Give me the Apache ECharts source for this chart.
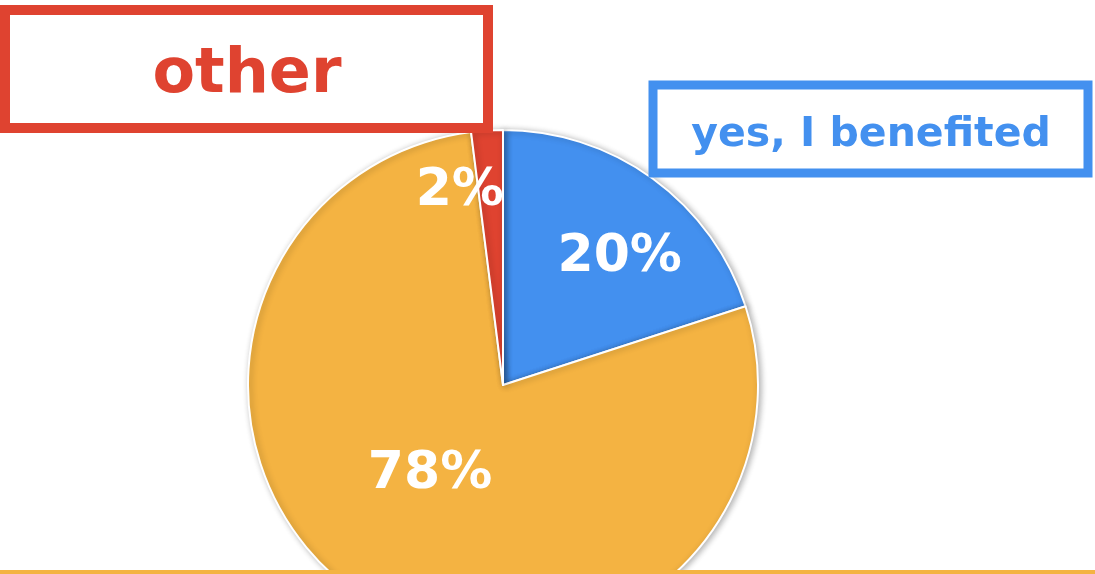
<!DOCTYPE html>
<html>
<head>
<meta charset="utf-8">
<script src="https://cdn.jsdelivr.net/npm/echarts@6/dist/echarts.min.js"></script>
<style>
  html, body { margin: 0; padding: 0; background: #fff; }
  #chart { width: 1095px; height: 574px; }
</style>
</head>
<body>
<div id="chart"></div>
<script>
// slices, clockwise from 12 o'clock
const names = ['yes, I benefited', 'no', 'other']
const values = [20, 78, 2]
const colors = ['#4390EF', '#F4B342', '#DF4330']
// nudges to place the percent labels like the original
const labelOffsets = [[40, -22], [-3, -21], [-35, -63]]

const chart = echarts.init(document.getElementById('chart'))

const seriesData = names.map((name, i) => ({
  name: name,
  value: values[i],
  itemStyle: { color: colors[i] },
  label: { offset: labelOffsets[i] }
}))

const option = {
  animation: false,
  backgroundColor: '#fff',
  series: [
    {
      type: 'pie',
      center: [503, 385],
      radius: 255,
      startAngle: 90,
      clockwise: true,
      avoidLabelOverlap: false,
      itemStyle: {
        borderColor: '#fff',
        borderWidth: 2,
        shadowBlur: 6,
        shadowColor: 'rgba(0,0,0,0.3)',
        shadowOffsetX: 2,
        shadowOffsetY: 1
      },
      label: {
        show: true,
        position: 'inside',
        formatter: '{d}%',
        color: '#fff',
        fontFamily: 'DejaVu Sans',
        fontWeight: 'bold',
        fontSize: 52
      },
      labelLine: { show: false },
      data: seriesData
    }
  ],
  graphic: [
    {
      type: 'rect',
      z: 100,
      shape: { x: 5, y: 10, width: 483, height: 118 },
      style: { fill: '#fff', stroke: '#DF4330', lineWidth: 10 }
    },
    {
      type: 'text',
      z: 101,
      x: 247,
      y: 76,
      style: {
        text: 'other',
        fill: '#DF4330',
        font: 'bold 62px "DejaVu Sans"',
        align: 'center',
        verticalAlign: 'middle'
      }
    },
    {
      type: 'rect',
      z: 100,
      shape: { x: 653, y: 85, width: 435, height: 88 },
      style: { fill: '#fff', stroke: '#4390EF', lineWidth: 9 }
    },
    {
      type: 'text',
      z: 101,
      x: 871,
      y: 135,
      style: {
        text: 'yes, I benefited',
        fill: '#4390EF',
        font: 'bold 41px "DejaVu Sans"',
        align: 'center',
        verticalAlign: 'middle'
      }
    },
    {
      type: 'rect',
      z: 100,
      shape: { x: 0, y: 570, width: 1095, height: 4 },
      style: { fill: '#F4B342' }
    }
  ]
}

chart.setOption(option)
</script>
</body>
</html>
